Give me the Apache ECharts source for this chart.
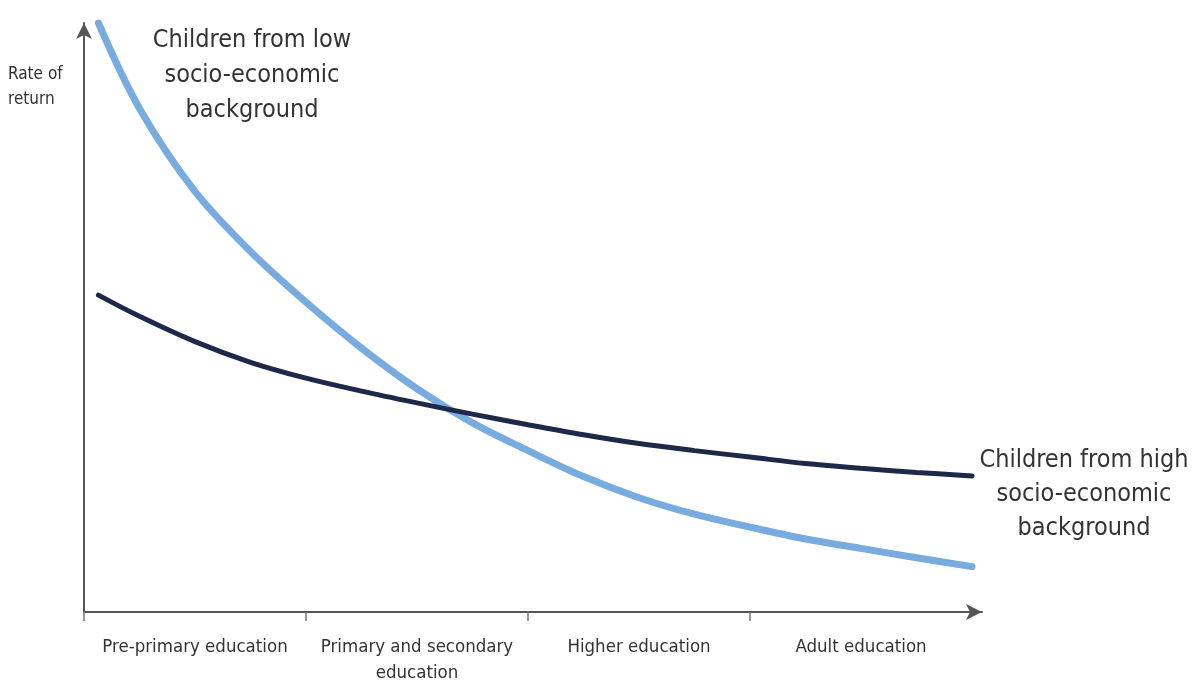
<!DOCTYPE html>
<html>
<head>
<meta charset="utf-8">
<script src="https://cdn.jsdelivr.net/npm/echarts@6/dist/echarts.min.js"></script>
<style>
html,body{margin:0;padding:0;background:#fff;}
#chart{width:1192px;height:686px;}
</style>
</head>
<body>
<div id="chart"></div>
<script>
// Education stages (category bands along the x axis)
var categories = ['Pre-primary education', 'Primary and secondary\neducation', 'Higher education', 'Adult education'];
// Tick positions (stage boundaries) and label positions (stage centres) on the stage scale
var tickValues = [0, 1, 2, 3];
var labelValues = [0.5, 1.5, 2.5, 3.5];

// Positions along the education-stage scale where the curves were read
var stageX = [0.065, 0.25, 0.5, 0.75, 1.0, 1.25, 1.5, 1.75, 2.0, 2.25, 2.5, 2.75, 3.0, 3.25, 3.5, 3.75, 4.0];

// Children from low socio-economic background (rate of return, relative units)
var lowY = [100, 85.5, 71.4, 61.2, 52.6, 44.8, 37.9, 32.1, 27.4, 23.0, 19.4, 16.6, 14.4, 12.4, 10.8, 9.2, 7.7];

// Children from high socio-economic background
var highY = [53.8, 50.2, 45.9, 42.4, 39.7, 37.5, 35.5, 33.6, 31.8, 30.1, 28.6, 27.4, 26.3, 25.2, 24.4, 23.7, 23.1];

var FONT = '"DejaVu Sans Condensed", "Liberation Sans Narrow", Roboto, sans-serif';

function pairs(xs, ys) { return xs.map(function (x, i) { return [x, ys[i]]; }); }

var chart = echarts.init(document.getElementById('chart'), null, {renderer: 'canvas'});
chart.setOption({
  backgroundColor: '#ffffff',
  animation: false,
  grid: {left: 84, right: 210, top: 23, bottom: 69, containLabel: false},
  xAxis: {
    type: 'value',
    min: 0,
    max: 4.045,
    splitLine: {show: false},
    axisLine: {show: true, symbol: ['none', 'arrow'], symbolSize: [12, 16], lineStyle: {color: '#555', width: 2}},
    axisTick: {show: true, customValues: tickValues, length: 9, lineStyle: {color: '#777', width: 1.5}},
    axisLabel: {
      show: true,
      customValues: labelValues,
      showMinLabel: true,
      showMaxLabel: true,
      hideOverlap: false,
      margin: 22,
      color: '#333',
      fontFamily: FONT,
      fontSize: 18.5,
      lineHeight: 26,
      formatter: function (v) {
        for (var i = 0; i < labelValues.length; i++) {
          if (Math.abs(labelValues[i] - v) < 1e-6) return categories[i];
        }
        return '';
      }
    }
  },
  yAxis: {
    type: 'value',
    min: 0,
    max: 100,
    splitLine: {show: false},
    axisTick: {show: false},
    axisLabel: {show: false},
    axisLine: {show: true, symbol: ['none', 'arrow'], symbolSize: [12, 16], lineStyle: {color: '#555', width: 2}}
  },
  series: [
    {
      name: 'Children from low socio-economic background',
      type: 'line',
      smooth: 0.35,
      symbol: 'none',
      data: pairs(stageX, lowY),
      lineStyle: {color: '#78abdf', width: 7, cap: 'round'},
      z: 2
    },
    {
      name: 'Children from high socio-economic background',
      type: 'line',
      smooth: 0.35,
      symbol: 'none',
      data: pairs(stageX, highY),
      lineStyle: {color: '#1e2848', width: 5, cap: 'round'},
      z: 3
    }
  ],
  graphic: [
    {
      type: 'text', left: 8, top: 62,
      style: {text: 'Rate of\nreturn', font: '17px ' + FONT, fill: '#333', lineHeight: 25, align: 'left'}
    },
    {
      type: 'text', x: 252, y: 23,
      style: {text: 'Children from low\nsocio-economic\nbackground', font: '25px ' + FONT, fill: '#333', lineHeight: 35, align: 'center'}
    },
    {
      type: 'text', x: 1084, y: 443,
      style: {text: 'Children from high\nsocio-economic\nbackground', font: '25px ' + FONT, fill: '#333', lineHeight: 34, align: 'center'}
    }
  ]
});
</script>
</body>
</html>
